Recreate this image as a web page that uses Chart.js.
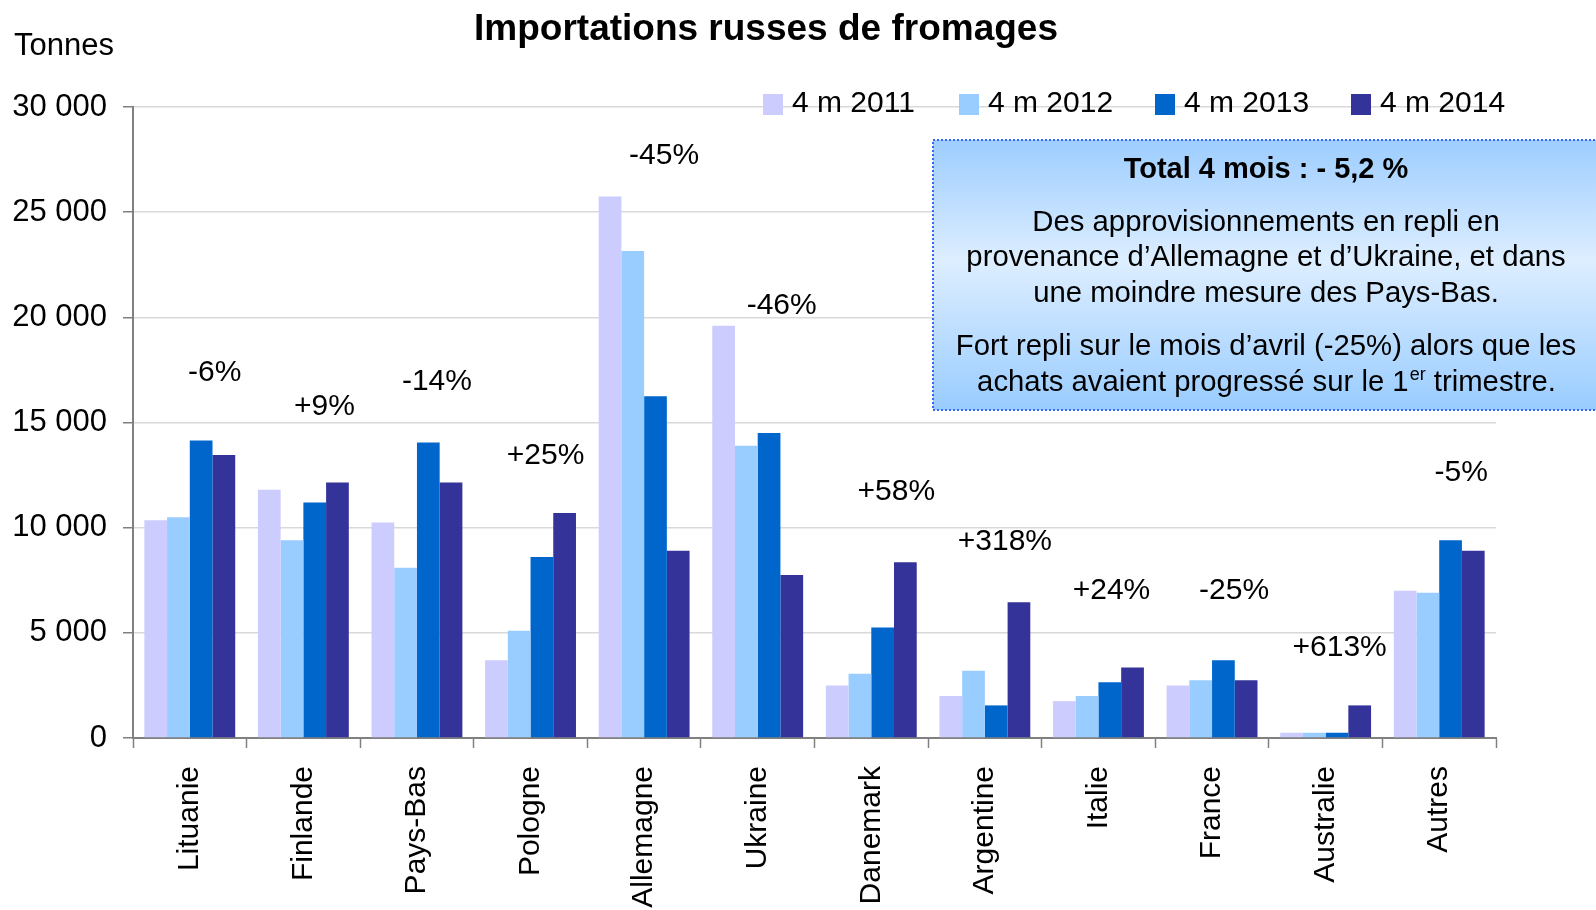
<!DOCTYPE html>
<html><head><meta charset="utf-8">
<script src="https://cdn.jsdelivr.net/npm/chart.js@4.4.1/dist/chart.umd.min.js"></script>
<style>html,body{margin:0;padding:0;background:#fff;} canvas{display:block;}</style>
</head><body>
<canvas id="c" width="1596" height="910"></canvas>
<script>
const categories = ['Lituanie','Finlande','Pays-Bas','Pologne','Allemagne','Ukraine','Danemark','Argentine','Italie','France','Australie','Autres'];
const seriesNames = ['4 m 2011','4 m 2012','4 m 2013','4 m 2014'];
const v2011 = [10350,11800,10250,3700,25750,19600,2500,2000,1750,2500,250,7000];
const v2012 = [10500,9400,8100,5100,23150,13900,3050,3200,2000,2750,250,6900];
const v2013 = [14150,11200,14050,8600,16250,14500,5250,1550,2650,3700,250,9400];
const v2014 = [13450,12150,12150,10700,8900,7750,8350,6450,3350,2750,1550,8900];
const yTicks = [0,5000,10000,15000,20000,25000,30000];
const changeLabels = ['-6%','+9%','-14%','+25%','-45%','-46%','+58%','+318%','+24%','-25%','+613%','-5%'];
const changeLevels = [17350,15750,16950,13400,27700,20550,11700,9350,7000,7000,4300,12600];
const changeShift = [25,21,20,15,20,24,25,20,13,22,14,22];
const colors = ['#CCCCFF','#99CCFF','#0066CC','#333399'];
const titleText = 'Importations russes de fromages';
const unitText = 'Tonnes';
const boxTitle = 'Total 4 mois : - 5,2 %';
const boxLines = ['Des approvisionnements en repli en','provenance d\u2019Allemagne et d\u2019Ukraine, et dans','une moindre mesure des Pays-Bas.','Fort repli sur le mois d\u2019avril (-25%) alors que les'];
const boxLastLine = ['achats avaient progress\u00e9 sur le 1','er',' trimestre.'];

const FONT = '"Liberation Sans", Arial, sans-serif';
const fmt = v => String(v).replace(/\B(?=(\d{3})+(?!\d))/g, ' ');

const extras = {
  id: 'extras',
  afterDraw(chart) {
    const ctx = chart.ctx;
    const xs = chart.scales.x, ys = chart.scales.y;
    ctx.save();
    // title
    ctx.fillStyle = '#000';
    ctx.font = 'bold 37px ' + FONT;
    ctx.textAlign = 'center'; ctx.textBaseline = 'middle';
    ctx.fillText(titleText, 766, 30);
    // unit
    ctx.font = '31px ' + FONT;
    ctx.textAlign = 'left';
    ctx.fillText(unitText, 14, 46);
    // legend
    const lx0 = 763, lstep = 196;
    seriesNames.forEach((n, i) => {
      const x = lx0 + i * lstep;
      ctx.fillStyle = colors[i];
      ctx.fillRect(x, 94, 20, 21);
      ctx.fillStyle = '#000';
      ctx.font = '30px ' + FONT;
      ctx.textAlign = 'left'; ctx.textBaseline = 'middle';
      ctx.fillText(n, x + 29, 104);
    });
    // change labels
    ctx.font = '30px ' + FONT;
    ctx.textAlign = 'center'; ctx.textBaseline = 'middle';
    ctx.fillStyle = '#000';
    changeLabels.forEach((t, i) => {
      ctx.fillText(t, xs.getPixelForValue(i) + changeShift[i], ys.getPixelForValue(changeLevels[i]));
    });
    // text box
    const bx = 933, by = 140, bw = 720, bh = 270;
    const g = ctx.createLinearGradient(0, by, 0, by + bh);
    g.addColorStop(0, '#9DCDFF');
    g.addColorStop(0.45, '#DDEEFF');
    g.addColorStop(1, '#99CCFF');
    ctx.fillStyle = g;
    ctx.fillRect(bx, by, bw, bh);
    ctx.strokeStyle = '#3366FF';
    ctx.lineWidth = 2;
    ctx.setLineDash([2, 2]);
    ctx.strokeRect(bx, by, bw, bh);
    ctx.setLineDash([]);
    const cx = 1266;
    ctx.fillStyle = '#000';
    ctx.textAlign = 'center'; ctx.textBaseline = 'middle';
    ctx.font = 'bold 29px ' + FONT;
    ctx.fillText(boxTitle, cx, 170);
    ctx.font = '29.3px ' + FONT;
    const ly = [223, 258, 294, 347];
    boxLines.forEach((l, i) => ctx.fillText(l, cx, ly[i]));
    // last line with superscript
    const f1 = '29.3px ' + FONT, f2 = '18px ' + FONT;
    ctx.font = f1; const w1 = ctx.measureText(boxLastLine[0]).width; const w3 = ctx.measureText(boxLastLine[2]).width;
    ctx.font = f2; const w2 = ctx.measureText(boxLastLine[1]).width;
    let x = cx - (w1 + w2 + w3) / 2;
    ctx.textAlign = 'left';
    ctx.font = f1; ctx.fillText(boxLastLine[0], x, 383); x += w1;
    ctx.font = f2; ctx.fillText(boxLastLine[1], x + 1, 375); x += w2 + 1;
    ctx.font = f1; ctx.fillText(boxLastLine[2], x, 383);
    ctx.restore();
  }
};

new Chart(document.getElementById('c'), {
  type: 'bar',
  data: {
    labels: categories,
    datasets: [v2011, v2012, v2013, v2014].map((d, i) => ({
      label: seriesNames[i], data: d, backgroundColor: colors[i], borderWidth: 0,
      barPercentage: 1.0, categoryPercentage: 0.8
    }))
  },
  options: {
    responsive: false, animation: false, devicePixelRatio: 1,
    layout: { padding: { top: 107, right: 100, left: 0, bottom: 0 } },
    plugins: { legend: { display: false }, title: { display: false }, tooltip: { enabled: false } },
    scales: {
      x: {
        grid: { display: true, offset: true, drawOnChartArea: false, drawTicks: true, tickLength: 10, tickColor: '#808080', tickWidth: 1.5 },
        border: { color: '#808080', width: 2 },
        ticks: { font: { family: FONT, size: 30 }, color: '#000', maxRotation: 90, minRotation: 90, padding: 18, autoSkip: false },
        afterFit: s => { s.height = 172; }
      },
      y: {
        min: 0, max: 30000,
        grid: { color: '#d9d9d9', lineWidth: 1.5, tickLength: 10, tickColor: '#808080', tickWidth: 1.5 },
        border: { color: '#808080', width: 2 },
        ticks: { font: { family: FONT, size: 31 }, color: '#000', padding: 16, callback: v => fmt(v) },
        afterBuildTicks: s => { s.ticks = yTicks.map(v => ({ value: v })); },
        afterFit: s => { s.width = 133; }
      }
    }
  },
  plugins: [extras]
});
</script>
</body></html>
